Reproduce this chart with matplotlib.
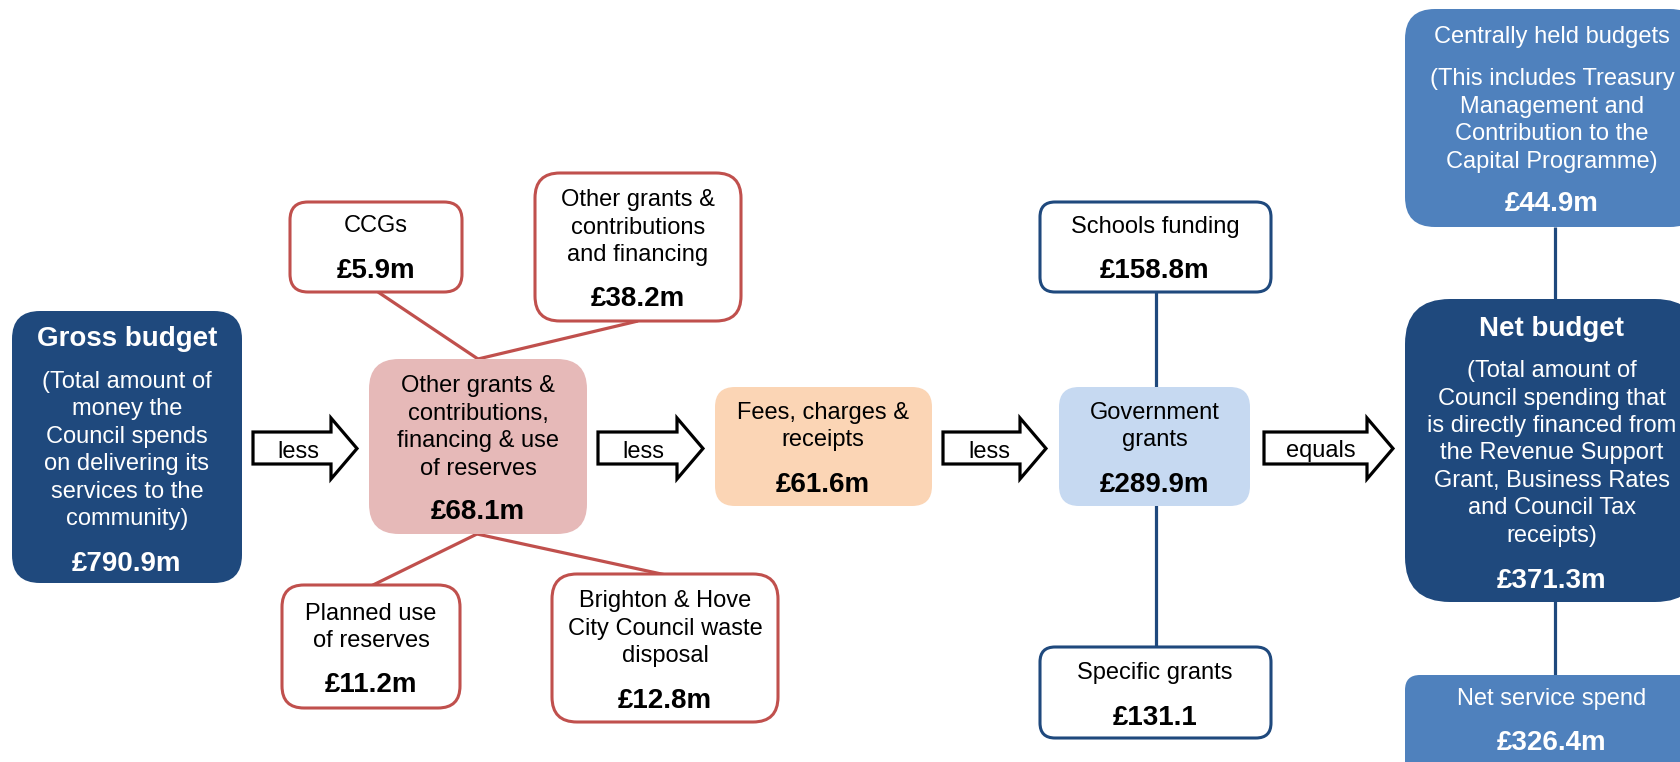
import matplotlib.pyplot as plt
from matplotlib.patches import FancyBboxPatch, Polygon

plt.rcParams['font.family'] = ['Liberation Sans', 'DejaVu Sans']

# Data
flow_labels = ["Gross budget",
               "Other grants &\ncontributions,\nfinancing & use\nof reserves",
               "Fees, charges &\nreceipts",
               "Government\ngrants",
               "Net budget"]
flow_values = ["£790.9m", "£68.1m", "£61.6m", "£289.9m", "£371.3m"]
gross_note = "(Total amount of\nmoney the\nCouncil spends\non delivering its\nservices to the\ncommunity)"
net_note = ("(Total amount of\nCouncil spending that\nis directly financed from\n"
            "the Revenue Support\nGrant, Business Rates\nand Council Tax\nreceipts)")
arrow_words = ["less", "less", "less", "equals"]

red_labels = ["CCGs", "Other grants &\ncontributions\nand financing",
              "Planned use\nof reserves", "Brighton & Hove\nCity Council waste\ndisposal"]
red_values = ["£5.9m", "£38.2m", "£11.2m", "£12.8m"]

grant_labels = ["Schools funding", "Specific grants"]
grant_values = ["£158.8m", "£131.1"]

net_labels = ["Centrally held budgets", "Net service spend"]
net_values = ["£44.9m", "£326.4m"]
central_note = "(This includes Treasury\nManagement and\nContribution to the\nCapital Programme)"

# colours
NAVY = "#1F497D"
MID = "#4F81BD"
RED = "#C0504D"
PINK = "#E6B9B8"
PEACH = "#FBD5B5"
LIGHT = "#C6D9F1"

BODY = 17
BIG = 20
PITCH = 27.5  # pixels between text lines

fig = plt.figure(figsize=(16.81, 7.62), dpi=100)
ax = fig.add_axes([0, 0, 1, 1])
ax.set_xlim(0, 1681)
ax.set_ylim(762, 0)
ax.axis("off")


def box(x0, y0, x1, y1, face, edge=None, r=20, lw=2.2):
    p = FancyBboxPatch((x0, y0), x1 - x0, y1 - y0,
                       boxstyle=f"round,pad=0,rounding_size={r}",
                       facecolor=face, edgecolor=edge if edge else face,
                       linewidth=lw if edge else 0, zorder=3)
    ax.add_patch(p)


def txt(x, y, s, color="black", size=BODY, bold=False):
    # y is the centre of the block, each line placed on a fixed pitch
    rows = s.split("\n")
    top = y - PITCH * (len(rows) - 1) / 2
    for i, row in enumerate(rows):
        ax.text(x, top + i * PITCH, row, ha="center", va="center_baseline",
                color=color, fontsize=size,
                fontweight="bold" if bold else "normal", zorder=5)


def arrow(x0, x1, word, lx):
    hb = x1 - 26
    pts = [(x0, 432), (hb, 432), (hb, 418), (x1, 448.5), (hb, 479), (hb, 464), (x0, 464)]
    ax.add_patch(Polygon(pts, closed=True, facecolor="white", edgecolor="black",
                         linewidth=2.3, joinstyle="miter", zorder=4))
    txt(lx, 449, word, size=BODY)


def line(p, q, color):
    ax.plot([p[0], q[0]], [p[1], q[1]], color=color, linewidth=2.3,
            solid_capstyle="butt", zorder=2)


# connectors
line((378, 292), (478, 359), RED)
line((638, 321), (478, 359), RED)
line((477, 534), (371, 586), RED)
line((477, 534), (666, 575), RED)
line((1156, 292), (1156, 388), NAVY)
line((1156, 505), (1156, 647), NAVY)
line((1555, 227), (1555, 300), NAVY)
line((1555, 601), (1555, 675), NAVY)

# main flow
box(12, 311, 242, 583, NAVY, r=28)
txt(127, 336, flow_labels[0], "white", BIG, True)
txt(127, 448, gross_note, "white")
txt(127, 561, flow_values[0], "white", BIG, True)

box(369, 359, 587, 534, PINK, r=30)
txt(478, 425, flow_labels[1])
txt(478, 509, flow_values[1], size=BIG, bold=True)

box(715, 387, 932, 506, PEACH, r=20)
txt(823, 424, flow_labels[2])
txt(823, 482, flow_values[2], size=BIG, bold=True)

box(1059, 387, 1250, 506, LIGHT, r=20)
txt(1155, 424, flow_labels[3])
txt(1155, 482, flow_values[3], size=BIG, bold=True)

box(1405, 299, 1700, 602, NAVY, r=45)
txt(1552, 326, flow_labels[4], "white", BIG, True)
txt(1552, 451, net_note, "white")
txt(1552, 578, flow_values[4], "white", BIG, True)

# arrows
arrow(253, 357, arrow_words[0], 298)
arrow(598, 703, arrow_words[1], 643)
arrow(943, 1046, arrow_words[2], 989)
arrow(1264, 1393, arrow_words[3], 1321)

# red outlined boxes
box(290, 202, 462, 292, "white", RED, r=18)
txt(376, 224, red_labels[0])
txt(376, 268, red_values[0], size=BIG, bold=True)

box(535, 173, 741, 321, "white", RED, r=25)
txt(638, 225, red_labels[1])
txt(638, 296, red_values[1], size=BIG, bold=True)

box(282, 585, 460, 708, "white", RED, r=22)
txt(371, 625, red_labels[2])
txt(371, 682, red_values[2], size=BIG, bold=True)

box(552, 574, 778, 722, "white", RED, r=25)
txt(665, 626, red_labels[3])
txt(665, 698, red_values[3], size=BIG, bold=True)

# government grant breakdown
box(1040, 202, 1271, 292, "white", NAVY, r=15)
txt(1155, 224, grant_labels[0])
txt(1155, 268, grant_values[0], size=BIG, bold=True)

box(1040, 647, 1271, 738, "white", NAVY, r=15)
txt(1155, 670, grant_labels[1])
txt(1155, 715, grant_values[1], size=BIG, bold=True)

# net budget breakdown
box(1405, 9, 1700, 227, MID, r=30)
txt(1552, 34, net_labels[0], "white")
txt(1552, 118, central_note, "white")
txt(1552, 201, net_values[0], "white", BIG, True)

box(1405, 675, 1700, 790, MID, r=15)
txt(1552, 697, net_labels[1], "white")
txt(1552, 740, net_values[1], "white", BIG, True)

plt.savefig("out.png", dpi=100)
